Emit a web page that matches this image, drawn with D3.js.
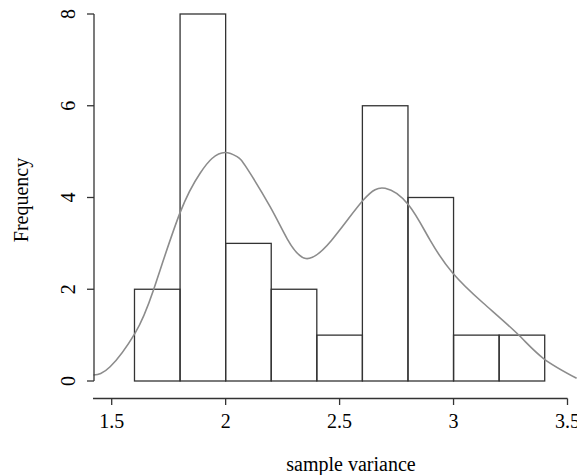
<!DOCTYPE html>
<html>
<head>
<meta charset="utf-8">
<script src="https://cdn.jsdelivr.net/npm/d3@7"></script>
<style>
  body { margin: 0; background: #fff; }
  text { font-family: "Liberation Serif", "Times New Roman", serif; fill: #000; }
</style>
</head>
<body>
<svg width="577" height="475"></svg>
<script>
// histogram bins
var binEdges = [1.6, 1.8, 2.0, 2.2, 2.4, 2.6, 2.8, 3.0, 3.2, 3.4];
var counts = [2, 8, 3, 2, 1, 6, 4, 1, 1];

// density curve, on the frequency scale
var densX = [1.42, 1.493, 1.602, 1.683, 1.80, 1.888, 1.94, 1.997, 2.05, 2.093, 2.195, 2.27, 2.352, 2.465, 2.605, 2.70, 2.802, 2.897, 2.997, 3.13, 3.278, 3.395, 3.54];
var densY = [0.13, 0.31, 1.04, 1.98, 3.67, 4.53, 4.85, 4.98, 4.89, 4.64, 3.8, 3.1, 2.67, 3.07, 3.95, 4.2, 3.84, 3.07, 2.35, 1.70, 1.04, 0.49, 0.06];

var xTicks = [1.5, 2, 2.5, 3, 3.5];
var yTicks = [0, 2, 4, 6, 8];

var svg = d3.select("svg");

var x = d3.scaleLinear().domain([1.5, 3.5]).range([111.7, 567.5]);
var y = d3.scaleLinear().domain([0, 8]).range([381, 14]);
var xLeft = 1.418;
var fs = 20;

// bars
var bins = counts.map(function(c, i) { return {x0: binEdges[i], x1: binEdges[i + 1], n: c}; });
svg.append("g").selectAll("rect")
  .data(bins)
  .enter().append("rect")
    .attr("x", function(d) { return x(d.x0); })
    .attr("y", function(d) { return y(d.n); })
    .attr("width", function(d) { return x(d.x1) - x(d.x0); })
    .attr("height", function(d) { return y(0) - y(d.n); })
    .attr("fill", "none")
    .attr("stroke", "#333")
    .attr("stroke-width", 1.3);

// density line
var pts = densX.map(function(v, i) { return [v, densY[i]]; });
svg.append("path")
  .datum(pts)
  .attr("fill", "none")
  .attr("stroke", "#8c8c8c")
  .attr("stroke-width", 1.6)
  .attr("d", d3.line()
    .x(function(d) { return x(d[0]); })
    .y(function(d) { return y(d[1]); })
    .curve(d3.curveNatural));

// x axis
var xa = svg.append("g");
xa.append("line")
  .attr("x1", x(xLeft)).attr("x2", x(3.5))
  .attr("y1", 398.5).attr("y2", 398.5)
  .attr("stroke", "#333").attr("stroke-width", 1.3);
xa.selectAll(".tick").data(xTicks).enter().append("line")
  .attr("x1", function(d) { return x(d); }).attr("x2", function(d) { return x(d); })
  .attr("y1", 398.5).attr("y2", 405)
  .attr("stroke", "#333").attr("stroke-width", 1.3);
xa.selectAll("text").data(xTicks).enter().append("text")
  .attr("x", function(d) { return x(d); })
  .attr("y", 427.5)
  .attr("text-anchor", "middle")
  .attr("font-size", fs)
  .text(function(d) { return d; });

// y axis
var ya = svg.append("g");
ya.append("line")
  .attr("x1", 94).attr("x2", 94)
  .attr("y1", y(0)).attr("y2", y(8))
  .attr("stroke", "#333").attr("stroke-width", 1.3);
ya.selectAll(".tick").data(yTicks).enter().append("line")
  .attr("x1", 87).attr("x2", 94)
  .attr("y1", function(d) { return y(d); }).attr("y2", function(d) { return y(d); })
  .attr("stroke", "#333").attr("stroke-width", 1.3);
ya.selectAll("text").data(yTicks).enter().append("text")
  .attr("transform", function(d) { return "translate(75," + y(d) + ") rotate(-90)"; })
  .attr("text-anchor", "middle")
  .attr("font-size", fs)
  .text(function(d) { return d; });

// axis titles
svg.append("text")
  .attr("x", 351).attr("y", 471)
  .attr("text-anchor", "middle")
  .attr("font-size", fs)
  .text("sample variance");
svg.append("text")
  .attr("transform", "translate(28,200) rotate(-90)")
  .attr("text-anchor", "middle")
  .attr("font-size", fs)
  .text("Frequency");
</script>
</body>
</html>
